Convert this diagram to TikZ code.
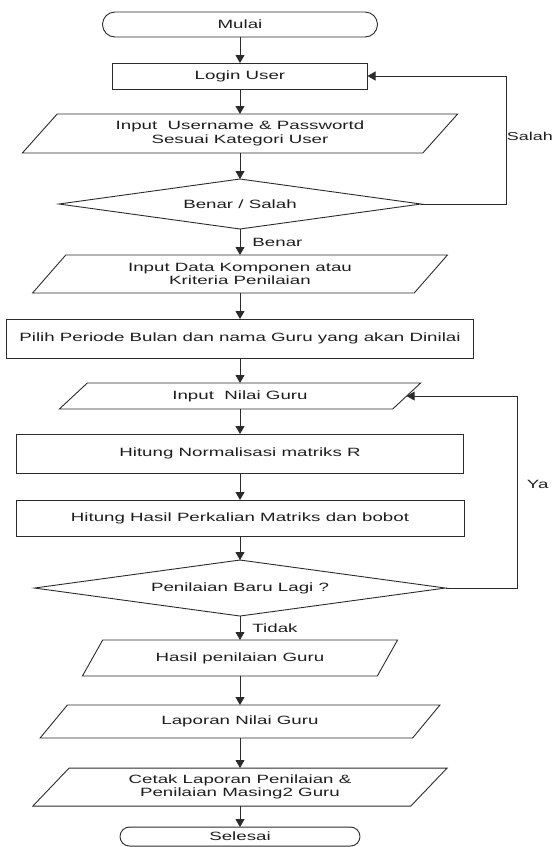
\documentclass[tikz,border=0pt]{standalone}
\usepackage{fontspec}
\setmainfont{Liberation Sans}[FakeStretch=1.56]
\usepackage{tikz}
\usetikzlibrary{
  arrows.meta,
  shapes.geometric,
  shapes.misc,
  positioning
}
\definecolor{fcLine}{HTML}{2B2B2B}
\definecolor{fcText}{HTML}{1E1E1E}
\tikzset{
  fcnode/.style={
    draw=fcLine, line width=0.9pt, text=fcText, align=center,
    font=\fontsize{12}{13.5}\selectfont, inner sep=2pt, outer sep=0pt
  },
  terminal/.style={fcnode, rounded rectangle},
  procbox/.style={fcnode, rectangle},
  iobox/.style={fcnode, trapezium, trapezium left angle=50,
    trapezium right angle=130, trapezium stretches=true},
  decision/.style={fcnode, diamond, aspect=8},
  flow/.style={-{Triangle[length=8pt,width=9pt]}, line width=0.9pt, fcLine},
  tag/.style={font=\fontsize{12}{13.5}\selectfont, text=fcText, inner sep=1pt}
}
\begin{document}
\begin{tikzpicture}[node distance=26pt]
  \useasboundingbox (0,0) rectangle (552pt,-847pt);
  \node[terminal, minimum width=279pt, minimum height=25pt] (mulai) at (240pt,-24.5pt) {Mulai};
  \node[procbox, minimum width=255pt, minimum height=26pt, below=of mulai] (login) {Login User};
  \node[iobox, minimum width=437pt, minimum height=39pt, below=25pt of login] (akun) {Input\ \ Username \& Passwortd\\Sesuai Kategori User};
  \node[decision, minimum width=362pt, minimum height=50pt, below=of akun] (cek) {Benar / Salah};
  \node[iobox, minimum width=416pt, minimum height=38pt, below=of cek] (kriteria) {Input Data Komponen atau\\Kriteria Penilaian};
  \node[procbox, minimum width=467pt, minimum height=39pt, below=of kriteria] (periode) {Pilih Periode Bulan dan nama Guru yang akan Dinilai};
  \node[iobox, minimum width=362pt, minimum height=26pt, below=25pt of periode] (nilai) {Input\ \ Nilai Guru};
  \node[procbox, minimum width=447pt, minimum height=39pt, below=25pt of nilai] (normal) {Hitung Normalisasi matriks R};
  \node[procbox, minimum width=448pt, minimum height=36pt, below=27pt of normal] (kali) {Hitung Hasil Perkalian Matriks dan bobot};
  \node[decision, minimum width=411pt, minimum height=56pt, below=24pt of kali] (lagi) {Penilaian Baru Lagi ?};
  \node[iobox, minimum width=316pt, minimum height=36pt, below=24pt of lagi] (hasil) {Hasil penilaian Guru};
  \node[iobox, minimum width=400pt, minimum height=33pt, below=29pt of hasil] (laporan) {Laporan Nilai Guru};
  \node[iobox, minimum width=415pt, minimum height=38pt, below=30pt of laporan] (cetak) {Cetak Laporan Penilaian \&\\Penilaian Masing2 Guru};
  \node[terminal, minimum width=244pt, minimum height=19pt, below=21pt of cetak] (selesai) {Selesai};

  \draw[flow] (mulai.south) -- (login.north);
  \draw[flow] (login.south) -- (akun.north);
  \draw[flow] (akun.south) -- (cek.north);
  \draw[flow] (cek.south) -- (kriteria.north) node[tag, midway, anchor=west, xshift=11pt] {Benar};
  \draw[flow] (kriteria.south) -- (periode.north);
  \draw[flow] (periode.south) -- (nilai.north);
  \draw[flow] (nilai.south) -- (normal.north);
  \draw[flow] (normal.south) -- (kali.north);
  \draw[flow] (kali.south) -- (lagi.north);
  \draw[flow] (lagi.south) -- (hasil.north) node[tag, midway, anchor=west, xshift=11pt] {Tidak};
  \draw[flow] (hasil.south) -- (laporan.north);
  \draw[flow] (laporan.south) -- (cetak.north);
  \draw[flow] (cetak.south) -- (selesai.north);
  % loop back
  \draw[flow] (cek.east) -- ++(85pt,0) |- (login.east) node[tag, font=\fontsize{11.5}{13.5}\selectfont, pos=0.265, anchor=west, inner sep=0.5pt] {Salah};
  \draw[flow] (lagi.east) -- ++(72pt,0) |- (nilai.east) node[tag, pos=0.27, anchor=west, xshift=8pt] {Ya};
\end{tikzpicture}
\end{document}
